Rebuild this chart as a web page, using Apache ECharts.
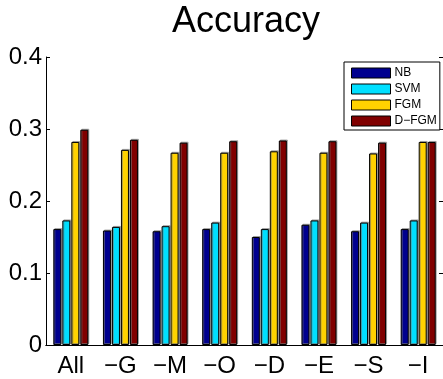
<!DOCTYPE html>
<html>
<head>
<meta charset="utf-8">
<script src="https://cdn.jsdelivr.net/npm/echarts@6/dist/echarts.min.js"></script>
<style>
html,body{margin:0;padding:0;background:#fff;}
#chart{width:443px;height:379px;}
</style>
</head>
<body>
<div id="chart"></div>
<script>
var categories = ['All', '\u2212G', '\u2212M', '\u2212O', '\u2212D', '\u2212E', '\u2212S', '\u2212I'];
var seriesNames = ['NB', 'SVM', 'FGM', 'D\u2212FGM'];
var nbValues   = [0.161, 0.159, 0.158, 0.161, 0.150, 0.167, 0.158, 0.161];
var svmValues  = [0.173, 0.164, 0.165, 0.170, 0.161, 0.173, 0.170, 0.173];
var fgmValues  = [0.282, 0.271, 0.267, 0.267, 0.269, 0.267, 0.266, 0.282];
var dfgmValues = [0.299, 0.285, 0.281, 0.283, 0.284, 0.283, 0.281, 0.282];
var yTicks = [0, 0.1, 0.2, 0.3, 0.4];

var colors = ['#00008F', '#00DFFF', '#FFD200', '#800000'];
var values = [nbValues, svmValues, fgmValues, dfgmValues];
var font = 'Liberation Sans, Arial, Helvetica, sans-serif';

var chart = echarts.init(document.getElementById('chart'), null, {renderer: 'canvas'});

var series = values.map(function (vals, i) {
  return {
    name: seriesNames[i],
    type: 'bar',
    xAxisIndex: 0,
    yAxisIndex: 0,
    data: vals,
    barWidth: 8,
    barGap: '12.5%',
    itemStyle: {
      color: colors[i],
      borderColor: '#000',
      borderWidth: 1,
      shadowColor: 'rgba(120,120,120,0.6)',
      shadowOffsetX: 1,
      shadowOffsetY: -1,
      shadowBlur: 0
    },
    emphasis: {disabled: true},
    animation: false
  };
});

var option = {
  animation: false,
  backgroundColor: '#fff',
  title: {
    text: 'Accuracy',
    left: 246,
    textAlign: 'center',
    top: 4,
    padding: 0,
    textStyle: {fontFamily: font, fontSize: 36, fontWeight: 'normal', color: '#000'}
  },
  legend: {
    orient: 'vertical',
    left: 344,
    top: 62,
    padding: [5, 3, 3, 7],
    itemWidth: 39,
    itemHeight: 10,
    itemGap: 4,
    backgroundColor: '#fff',
    borderColor: '#000',
    borderWidth: 1,
    borderRadius: 0,
    icon: 'rect',
    itemStyle: {borderColor: '#000', borderWidth: 1, shadowBlur: 0, shadowOffsetX: 0, shadowOffsetY: 0},
    textStyle: {fontFamily: font, fontSize: 12, color: '#000', lineHeight: 10, padding: [0, 0, 0, -1]},
    data: seriesNames
  },
  grid: {left: 46, top: 57, width: 400, height: 288, containLabel: false},
  xAxis: [{
    type: 'category',
    data: categories,
    position: 'bottom',
    axisLine: {lineStyle: {color: '#000', width: 1}},
    axisTick: {inside: true, length: 4, alignWithLabel: true, lineStyle: {color: '#000'}},
    axisLabel: {fontFamily: font, fontSize: 24, color: '#000', margin: 9},
    splitLine: {show: false}
  }, {
    type: 'category',
    data: categories,
    position: 'top',
    axisLine: {lineStyle: {color: '#000', width: 1}},
    axisTick: {inside: true, length: 4, alignWithLabel: true, lineStyle: {color: '#000'}},
    axisLabel: {show: false},
    splitLine: {show: false}
  }],
  yAxis: [{
    type: 'value',
    min: 0,
    max: 0.4,
    interval: 0.1,
    position: 'left',
    axisLine: {show: true, lineStyle: {color: '#000', width: 1}},
    axisTick: {show: true, inside: true, length: 4, lineStyle: {color: '#000'}},
    axisLabel: {fontFamily: font, fontSize: 24, color: '#000', margin: 4,
      formatter: function (v) { return String(yTicks[Math.round(v * 10)]); }},
    splitLine: {show: false}
  }, {
    type: 'value',
    min: 0,
    max: 0.4,
    interval: 0.1,
    position: 'right',
    axisLine: {show: true, lineStyle: {color: '#000', width: 1}},
    axisTick: {show: true, inside: true, length: 4, lineStyle: {color: '#000'}},
    axisLabel: {show: false},
    splitLine: {show: false}
  }],
  series: series
};

chart.setOption(option);
</script>
</body>
</html>
